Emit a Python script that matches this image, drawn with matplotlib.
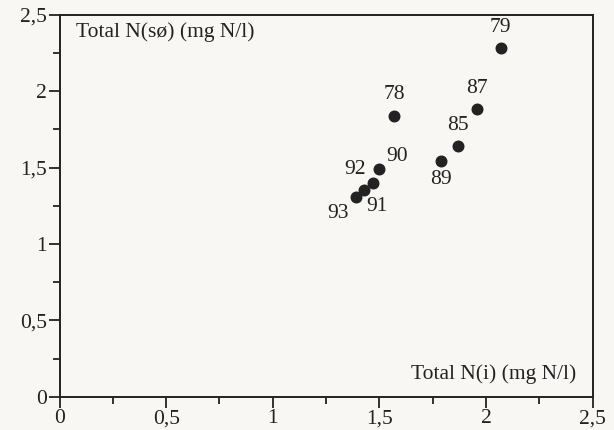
import numpy as np
import matplotlib
matplotlib.use('Agg')
import matplotlib.pyplot as plt
from matplotlib.ticker import MultipleLocator, FuncFormatter

# year labels and nitrogen values
years = ['79', '78', '87', '85', '89', '90', '92', '91', '93']
n_in = [2.07, 1.57, 1.96, 1.87, 1.79, 1.50, 1.47, 1.43, 1.39]
n_lake = [2.28, 1.84, 1.88, 1.64, 1.54, 1.49, 1.40, 1.35, 1.31]

# label offsets in points (dx, dy) and alignment
offsets = {
  '79': (0, 8, 'center', 'bottom'),
  '78': (0, 8, 'center', 'bottom'),
  '87': (0, 8, 'center', 'bottom'),
  '85': (0, 8, 'center', 'bottom'),
  '89': (0, -6, 'center', 'top'),
  '90': (5, 2, 'left', 'bottom'),
  '92': (-5, 3, 'right', 'bottom'),
  '91': (1, -5, 'left', 'top'),
  '93': (-5, -5, 'right', 'top'),
}

plt.rcParams['font.family'] = 'Liberation Serif'
ink = '#222222'
paper = '#f8f7f3'
fs = 15.5

fig = plt.figure(figsize=(6.14, 4.30), dpi=100, facecolor=paper)
ax = fig.add_axes([0.097, 0.077, 0.868, 0.889], facecolor=paper)

ax.scatter(n_in, n_lake, s=58, color=ink, zorder=3)
for yr, xv, yv in zip(years, n_in, n_lake):
  dx, dy, ha, va = offsets[yr]
  ax.annotate(yr, (xv, yv), xytext=(dx, dy), textcoords='offset points',
              ha=ha, va=va, fontsize=fs, color=ink)

ax.set_xlim(0, 2.5)
ax.set_ylim(0, 2.5)
ax.xaxis.set_major_locator(MultipleLocator(0.5))
ax.xaxis.set_minor_locator(MultipleLocator(0.25))
ax.yaxis.set_major_locator(MultipleLocator(0.5))
ax.yaxis.set_minor_locator(MultipleLocator(0.25))
fmt = FuncFormatter(lambda v, p: ('%g' % v).replace('.', ','))
ax.xaxis.set_major_formatter(fmt)
ax.yaxis.set_major_formatter(fmt)

ax.tick_params(which='major', direction='out', length=8, width=1.3, colors=ink,
               labelsize=fs, pad=1)
ax.tick_params(which='minor', direction='out', length=5, width=1.3, colors=ink)
for s in ax.spines.values():
  s.set_linewidth(1.4)
  s.set_color(ink)

ax.text(0.03, 0.98, 'Total N(sø) (mg N/l)', transform=ax.transAxes,
        ha='left', va='top', fontsize=fs, color=ink)
ax.text(0.97, 0.035, 'Total N(i) (mg N/l)', transform=ax.transAxes,
        ha='right', va='bottom', fontsize=fs, color=ink)

fig.savefig('out.png', dpi=100, facecolor=paper)
